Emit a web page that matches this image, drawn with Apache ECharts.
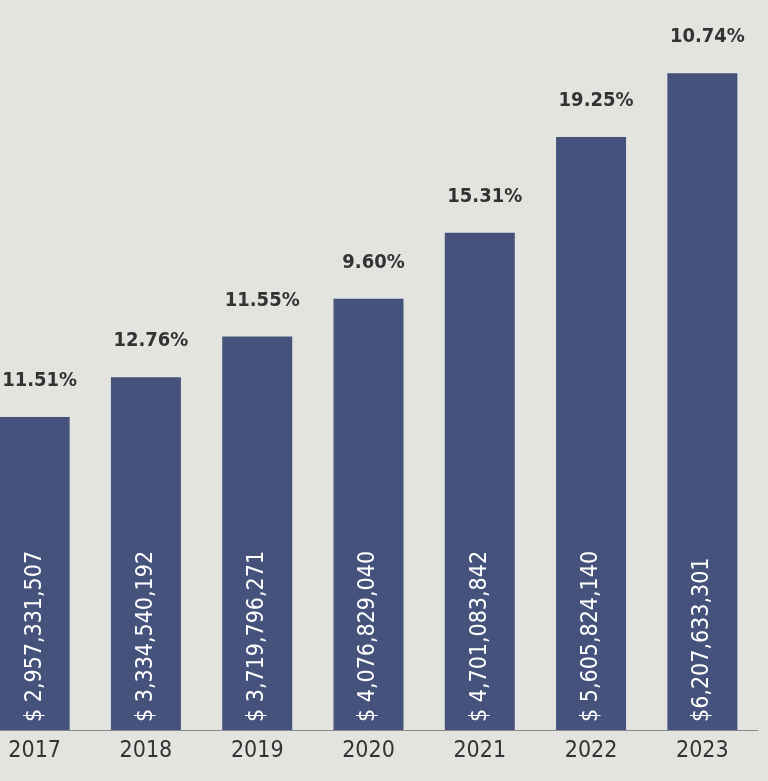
<!DOCTYPE html>
<html>
<head>
<meta charset="utf-8">
<script src="https://cdn.jsdelivr.net/npm/echarts@6/dist/echarts.min.js"></script>
<style>
  html, body { margin: 0; padding: 0; background: #e3e4e0; overflow: hidden; }
  #chart { width: 789px; height: 781px; margin-left: -21px; }
</style>
</head>
<body>
<div id="chart"></div>
<script>
const years = ["2017", "2018", "2019", "2020", "2021", "2022", "2023"];
const amounts = [2957331507, 3334540192, 3719796271, 4076829040, 4701083842, 5605824140, 6207633301];
const amountLabels = ["$ 2,957,331,507", "$ 3,334,540,192", "$ 3,719,796,271", "$ 4,076,829,040", "$ 4,701,083,842", "$ 5,605,824,140", "$6,207,633,301"];
const growth = ["11.51%", "12.76%", "11.55%", "9.60%", "15.31%", "19.25%", "10.74%"];

const FONT = "'DejaVu Sans Condensed', 'Liberation Sans Narrow', sans-serif";

const chart = echarts.init(document.getElementById("chart"));

const series = [
  {
    type: "bar",
    data: amounts,
    barWidth: 70,
    itemStyle: { color: "#45527b" },
    label: {
      show: true,
      position: "insideBottom",
      rotate: 90,
      align: "left",
      verticalAlign: "middle",
      distance: 8,
      color: "#ffffff",
      fontSize: 23,
      fontFamily: FONT,
      formatter: (p) => amountLabels[p.dataIndex],
    },
  },
  {
    type: "bar",
    data: amounts,
    barWidth: 70,
    barGap: "-100%",
    itemStyle: { color: "transparent" },
    silent: true,
    label: {
      show: true,
      position: "top",
      distance: 26,
      offset: [5, 0],
      color: "#333333",
      fontSize: 20,
      fontWeight: "bold",
      fontFamily: FONT,
      formatter: (p) => growth[p.dataIndex],
    },
  },
];

chart.setOption({
  backgroundColor: "#e3e4e0",
  animation: false,
  grid: { left: 0, right: 10, top: 0, bottom: 51 },
  xAxis: {
    type: "category",
    data: years,
    axisLine: { lineStyle: { color: "#8a8a8a", width: 1 } },
    axisTick: { show: false },
    axisLabel: {
      color: "#333333",
      fontSize: 23,
      fontFamily: FONT,
      margin: 10,
    },
  },
  yAxis: {
    type: "value",
    min: 0,
    max: 6900000000,
    show: false,
    splitLine: { show: false },
  },
  series,
});
</script>
</body>
</html>
